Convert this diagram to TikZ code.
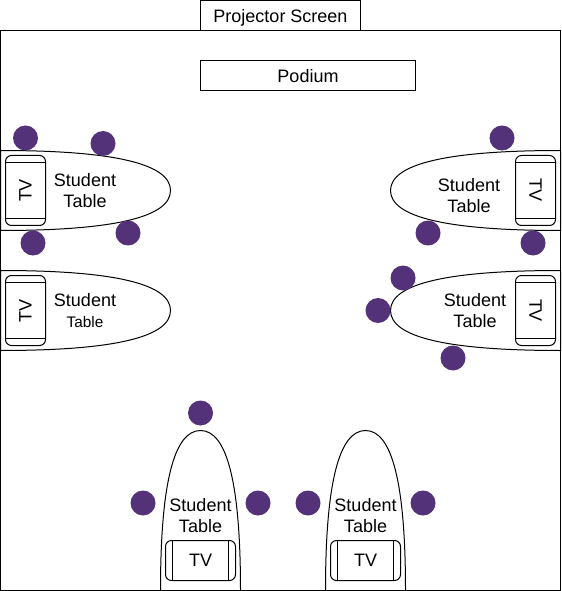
\documentclass[tikz,border=0pt]{standalone}
\usepackage{fontspec}
\setmainfont{Liberation Sans}
\usetikzlibrary{calc}
\definecolor{SeatPurple}{HTML}{54327A}

\tikzset{
  roombox/.style={draw=black, line width=0.75pt, fill=white, inner sep=0pt, outer sep=0pt},
  tvbox/.style={draw=black, line width=0.75pt, fill=white, rounded corners=4.5pt, inner sep=0pt, outer sep=0pt,
    minimum width=52.5pt, minimum height=30pt},
  tablelabel/.style={align=center, inner sep=0pt},
  tableline/.style={draw=black, line width=0.75pt, fill=white},
  seat/.style={circle, fill=SeatPurple, inner sep=0pt, minimum size=18.75pt}
}

\begin{document}
\begin{tikzpicture}[x=0.75pt,y=-0.75pt,font=\fontsize{13.5}{15.75}\selectfont]
  \useasboundingbox (0,0) rectangle (561,591);

  % room and front of class
  \node[roombox, minimum width=420pt, minimum height=420pt] (room) at (280.5,310.5) {};
  \node[roombox, minimum width=120pt, minimum height=22.5pt, text height=10.2pt, text depth=0pt] (screen) at (280.5,15.5) {Projector Screen};
  \node[roombox, minimum width=161.25pt, minimum height=22.5pt, text height=10.2pt, text depth=0pt] (podium) at (308,75.5) {Podium};

  % tables on the left
  \draw[tableline] (0.5,150.5) .. controls (113.8,150.5) and (170.5,163.8) .. (170.5,190.5) .. controls (170.5,217.2) and (113.8,230.5) .. (0.5,230.5) -- cycle;
  \draw[tableline] (0.5,270.5) .. controls (113.8,270.5) and (170.5,283.8) .. (170.5,310.5) .. controls (170.5,337.2) and (113.8,350.5) .. (0.5,350.5) -- cycle;

  % tables on the right
  \draw[tableline] (560.5,150.5) .. controls (447.2,150.5) and (390.5,163.8) .. (390.5,190.5) .. controls (390.5,217.2) and (447.2,230.5) .. (560.5,230.5) -- cycle;
  \draw[tableline] (560.5,270.5) .. controls (447.2,270.5) and (390.5,283.8) .. (390.5,310.5) .. controls (390.5,337.2) and (447.2,350.5) .. (560.5,350.5) -- cycle;

  % tables at the back
  \draw[tableline] (160.5,590.5) .. controls (160.5,484) and (173.8,430.5) .. (200.5,430.5) .. controls (227.2,430.5) and (240.5,484) .. (240.5,590.5) -- cycle;
  \draw[tableline] (325.5,590.5) .. controls (325.5,484) and (338.8,430.5) .. (365.5,430.5) .. controls (392.2,430.5) and (405.5,484) .. (405.5,590.5) -- cycle;

  % labels
  \node[tablelabel] (labelA) at (85,190.5) {Student\\Table};
  \node[tablelabel] (labelB) at (85,311) {Student\\{\fontsize{11.5}{15.75}\selectfont Table}};
  \node[tablelabel] (labelC) at (469,195.5) {Student\\Table};
  \node[tablelabel] (labelD) at (475,310.5) {Student\\Table};
  \node[tablelabel] (labelE) at (200.5,515.5) {Student\\Table};
  \node[tablelabel] (labelF) at (365.5,515.5) {Student\\Table};

  % televisions
  \node[tvbox, rotate=90] (tvA) at (25.5,190.5) {TV};
  \node[tvbox, rotate=90] (tvB) at (25.5,310.5) {TV};
  \node[tvbox, rotate=-90] (tvC) at (535.5,190.5) {TV};
  \node[tvbox, rotate=-90] (tvD) at (535.5,310.5) {TV};
  \node[tvbox] (tvE) at (200.5,560.5) {TV};
  \node[tvbox] (tvF) at (365.5,560.5) {TV};
  \foreach \tv in {tvA,tvB,tvC,tvD,tvE,tvF} {
    \foreach \frac in {0.1,0.9} {
      \draw[line width=0.75pt] ($(\tv.north west)!\frac!(\tv.north east)$) -- ($(\tv.south west)!\frac!(\tv.south east)$);
    }
  }

  % seats
  \foreach \px/\py/\seatname in {25.5/138/seatA,103/143.5/seatB,33/243/seatC,128/233/seatD,
    502/138/seatE,428/233/seatF,533/243/seatG,403/278/seatH,378/310.5/seatI,453/358/seatJ,
    200.5/413/seatK,143/503/seatL,258/503/seatM,308/503/seatN,423/503/seatO} {
    \node[seat] (\seatname) at (\px,\py) {};
  }
\end{tikzpicture}
\end{document}
